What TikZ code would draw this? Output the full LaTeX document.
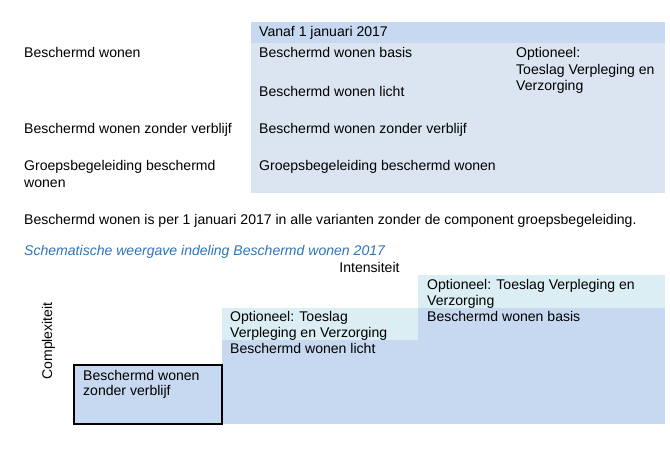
\documentclass[tikz,border=0pt]{standalone}
\usepackage{fontspec}
\setmainfont{Liberation Sans}
\definecolor{hdrblue}{RGB}{198,217,241}
\definecolor{bodyblue}{RGB}{219,229,241}
\definecolor{lowblue}{RGB}{198,217,240}
\definecolor{lightcyan}{RGB}{218,238,243}
\definecolor{captionblue}{RGB}{46,116,181}
\tikzset{
  txt/.style={anchor=base west, inner sep=0pt, font=\fontsize{14.05}{16.3}\selectfont, text=black},
  captxt/.style={txt, text=captionblue, font=\fontsize{14.05}{16.3}\selectfont\itshape},
}
\begin{document}
\begin{tikzpicture}[x=1pt,y=-1pt]
\useasboundingbox (0,0) rectangle (670,450);
% upper table
\fill[bodyblue] (251,43) rectangle (665,193);
\fill[hdrblue] (251,22) rectangle (665,43);
\node[txt] (hdr) at (259,36) {Vanaf 1 januari 2017};
\node[txt] (l1) at (24,57) {Beschermd wonen};
\node[txt] (r1) at (259,57) {Beschermd wonen basis};
\node[txt] (o1) at (516,57) {Optioneel:};
\node[txt] (o2) at (516,74) {Toeslag Verpleging en};
\node[txt] (o3) at (516,90) {Verzorging};
\node[txt] (r2) at (259,96) {Beschermd wonen licht};
\node[txt] (l3) at (24,133) {Beschermd wonen zonder verblijf};
\node[txt] (r3) at (259,133) {Beschermd wonen zonder verblijf};
\node[txt] (l4a) at (24,170) {Groepsbegeleiding beschermd};
\node[txt] (l4b) at (24,187) {wonen};
\node[txt] (r4) at (259,170) {Groepsbegeleiding beschermd wonen};
% sentence and caption
\node[txt] (sent) at (24,224) {Beschermd wonen is per 1 januari 2017 in alle varianten zonder de component groepsbegeleiding.};
\node[captxt] (caption) at (24,255) {Schematische weergave indeling Beschermd wonen 2017};
% lower schematic
\fill[lightcyan] (418,275) rectangle (665,308);
\fill[lightcyan] (222,308) rectangle (418,340);
\fill[lowblue] (418,308) rectangle (665,424);
\fill[lowblue] (222,340) rectangle (418,424);
\filldraw[fill=lowblue, draw=black, line width=1.5pt] (74,365) rectangle (222,424);
\node[txt, anchor=base] (int) at (369.5,272) {Intensiteit};
\node[txt, rotate=90, anchor=center] (comp) at (48.5,341) {Complexiteit};
\node[txt] (a1) at (427,289) {Optioneel: Toeslag Verpleging en};
\node[txt] (a2) at (427,305) {Verzorging};
\node[txt] (a3) at (427,321) {Beschermd wonen basis};
\node[txt] (b1) at (230,321) {Optioneel: Toeslag};
\node[txt] (b2) at (230,337) {Verpleging en Verzorging};
\node[txt] (b3) at (230,353) {Beschermd wonen licht};
\node[txt] (c1) at (83,380) {Beschermd wonen};
\node[txt] (c2) at (83,395) {zonder verblijf};
\end{tikzpicture}
\end{document}
